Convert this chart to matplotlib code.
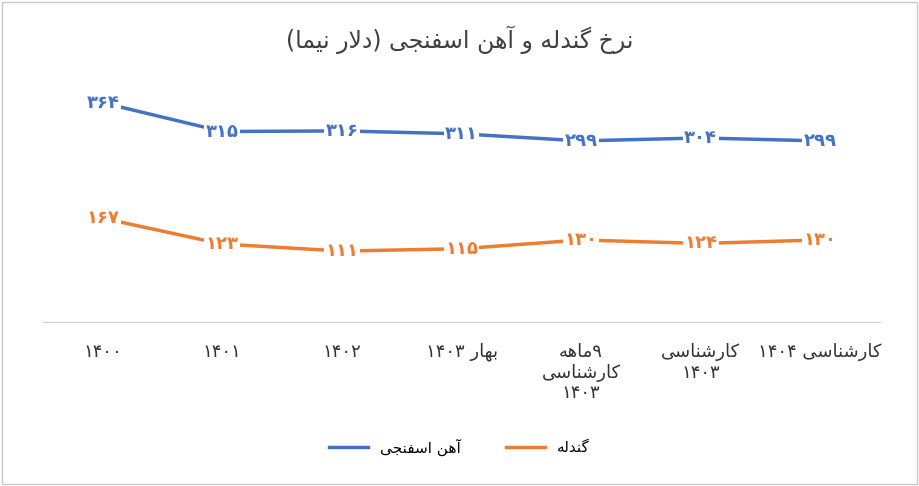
import matplotlib
matplotlib.use("Agg")
import matplotlib.pyplot as plt
from matplotlib.patches import Rectangle

categories = ["۱۴۰۰", "۱۴۰۱", "۱۴۰۲", "بهار ۱۴۰۳", "۹ماهه\nکارشناسی\n۱۴۰۳", "کارشناسی\n۱۴۰۳", "کارشناسی ۱۴۰۴"]
iron = [364, 315, 316, 311, 299, 304, 299]
pellet = [167, 123, 111, 115, 130, 124, 130]
title = "نرخ گندله و آهن اسفنجی (دلار نیما)"
s_iron = "آهن اسفنجی"
s_pellet = "گندله"

F = {
 'ا': (0xFE8D, 0xFE8E, None, None), 'آ': (0xFE81, 0xFE82, None, None),
 'ب': (0xFE8F, 0xFE90, 0xFE91, 0xFE92), 'ت': (0xFE95, 0xFE96, 0xFE97, 0xFE98),
 'ج': (0xFE9D, 0xFE9E, 0xFE9F, 0xFEA0), 'خ': (0xFEA5, 0xFEA6, 0xFEA7, 0xFEA8),
 'د': (0xFEA9, 0xFEAA, None, None), 'ر': (0xFEAD, 0xFEAE, None, None),
 'س': (0xFEB1, 0xFEB2, 0xFEB3, 0xFEB4), 'ش': (0xFEB5, 0xFEB6, 0xFEB7, 0xFEB8),
 'ف': (0xFED1, 0xFED2, 0xFED3, 0xFED4), 'ل': (0xFEDD, 0xFEDE, 0xFEDF, 0xFEE0),
 'م': (0xFEE1, 0xFEE2, 0xFEE3, 0xFEE4), 'ن': (0xFEE5, 0xFEE6, 0xFEE7, 0xFEE8),
 'ه': (0xFEE9, 0xFEEA, 0xFEEB, 0xFEEC), 'و': (0xFEED, 0xFEEE, None, None),
 'ی': (0xFBFC, 0xFBFD, 0xFBFE, 0xFBFF), 'ک': (0xFB8E, 0xFB8F, 0xFB90, 0xFB91),
 'گ': (0xFB92, 0xFB93, 0xFB94, 0xFB95),
}

def shape_word(w):
    out = []
    n = len(w)
    i = 0
    while i < n:
        c = w[i]
        if c not in F:
            out.append(c); i += 1; continue
        prev = w[i-1] if i > 0 else None
        jp = prev in F and F[prev][2] is not None
        if c == 'ل' and i + 1 < n and w[i+1] in 'اآ':
            out.append(chr(0xFEFC if jp else 0xFEFB)); i += 2; continue
        nxt = w[i+1] if i + 1 < n else None
        jn = nxt in F and F[c][2] is not None
        iso, fin, ini, med = F[c]
        if jp and jn: g = med
        elif jp: g = fin
        elif jn: g = ini
        else: g = iso
        out.append(chr(g)); i += 1
    return ''.join(out)

MIR = {'(': ')', ')': '('}
def visual(line):
    import re
    toks = re.findall(r'[\u0600-\u06EF]+|[\u06F0-\u06F90-9]+|\s+|.', line)
    vis = []
    for t in toks:
        if t and '\u0600' <= t[0] <= '\u06EF':
            vis.append(shape_word(t)[::-1])
        elif t in MIR:
            vis.append(MIR[t])
        else:
            vis.append(t)
    return ''.join(vis[::-1])

def vis_multi(s):
    return '\n'.join(visual(l) for l in s.split('\n'))

def fa_num(v):
    return str(v).translate(str.maketrans('0123456789', '۰۱۲۳۴۵۶۷۸۹'))

plt.rcParams['font.family'] = 'DejaVu Sans'
fig = plt.figure(figsize=(9.19, 4.86), dpi=100)
ax = fig.add_axes([43/919, 1-322/486, (880-43)/919, 262/486])
x = list(range(len(categories)))
blue, orange = '#4472C4', '#ED7D31'
ax.plot(x, iron, color=blue, lw=2.5, label=visual(s_iron))
ax.plot(x, pellet, color=orange, lw=2.5, label=visual(s_pellet))
for xs, ys, c in [(x, iron, blue), (x, pellet, orange)]:
    for xi, yi in zip(xs, ys):
        ax.text(xi, yi, fa_num(yi), color=c, fontsize=13, fontweight='bold', ha='center', va='center',
                bbox=dict(facecolor='white', edgecolor='none', pad=1))
ax.set_xlim(-0.5, 6.5)
ax.set_ylim(-10, 437)
ax.set_xticks(x)
ax.set_xticklabels([vis_multi(c) for c in categories], fontsize=13, color='#333333', va='top')
ax.tick_params(axis='x', length=0, pad=15)
ax.set_yticks([])
for s in ['top', 'right', 'left']:
    ax.spines[s].set_visible(False)
ax.spines['bottom'].set_color('#d0d0d0')
fig.text(0.5, 1-40/486, visual(title), ha='center', va='center', fontsize=17, color='#404040')
fig.legend(loc='center', bbox_to_anchor=(0.5, 1-447/486), ncol=2, frameon=False, fontsize=11,
           handlelength=2.5, columnspacing=3)
fig.patches.append(Rectangle((2/919, 2/486), 1-4/919, 1-4/486, transform=fig.transFigure,
                             fill=False, edgecolor='#c8c8c8', lw=1))
fig.savefig('out.png', dpi=100)
